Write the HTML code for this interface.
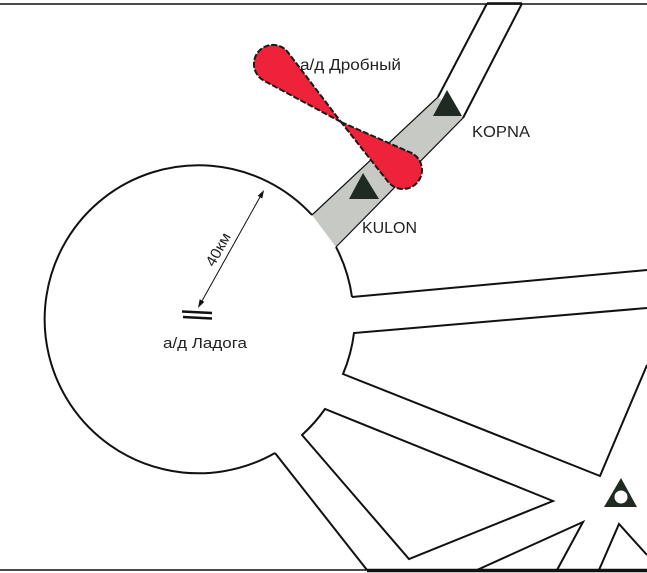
<!DOCTYPE html>
<html><head><meta charset="utf-8"><style>
html,body{margin:0;padding:0;background:#fff;}
svg{display:block;}
text{font-family:"Liberation Sans","Noto Sans CJK SC",sans-serif;fill:#222;}
</style></head><body>
<svg width="647" height="573" viewBox="0 0 647 573" xmlns="http://www.w3.org/2000/svg">
<rect width="647" height="573" fill="#fff"/>
<!-- top and bottom border lines -->
<line x1="0" y1="4" x2="647" y2="4" stroke="#111" stroke-width="1.5"/>
<line x1="487" y1="3.5" x2="522" y2="3.5" stroke="#111" stroke-width="2.5"/>
<line x1="0" y1="570" x2="367" y2="570" stroke="#111" stroke-width="1.5"/>
<line x1="367" y1="570.5" x2="647" y2="570.5" stroke="#111" stroke-width="3.5"/>

<!-- gray band -->
<polygon points="312,215 438,97 463,118 336,247" fill="#c7cac4"/>
<polyline points="312,215 438,97" fill="none" stroke="#111" stroke-width="1.2"/>
<polyline points="336,247 463,118" fill="none" stroke="#111" stroke-width="1.2"/>
<polyline points="438,97 487,3.5" fill="none" stroke="#111" stroke-width="2"/>
<polyline points="463,118 522,3.5" fill="none" stroke="#111" stroke-width="2"/>

<!-- circle arcs -->
<g fill="none" stroke="#111" stroke-width="2">
<path d="M275,453 A154,154 0 1 1 312,215"/>
<path d="M336,247 A154,154 0 0 1 352,297"/>
<path d="M352,297 L647,270"/>
<path d="M647,308 L354,333 A154,154 0 0 1 343,374 L600,476 L647,365"/>
<path d="M553,501 L325,409 A154,154 0 0 1 302,435 L409,559 Z"/>
<path d="M275,453 L367,570"/>
<path d="M477,570 L583,522 L557,570"/>
<path d="M599,570 L619,524 L647,555"/>
</g>

<!-- triangles -->
<polygon points="447,90 433,116 462,116" fill="#1e2a22"/>
<polygon points="363,173 349,199 379,199" fill="#1e2a22"/>
<polygon points="621,478 604,507 637,507" fill="#1e2a22"/>
<circle cx="621" cy="497" r="6.5" fill="#fff"/>

<!-- red propeller -->
<g fill="#ee2238" stroke="#1a1a1a" stroke-width="2" stroke-dasharray="6 2">
<path d="M341,122 L264,80.7 A19,19 0 1 1 288.1,52.5 Z"/>
<path d="M341,122 L410.6,152.6 A19,19 0 1 1 388.1,181.8 Z"/>
</g>

<!-- radius arrow -->
<line x1="200" y1="304.5" x2="262" y2="193.5" stroke="#111" stroke-width="1"/>
<polygon points="264,190 262.3,198.5 257.7,195.9" fill="#111"/>
<polygon points="198,308 204.3,301.9 199.7,299.3" fill="#111"/>
<text transform="translate(219,250) rotate(-60.8)" text-anchor="middle" font-size="15" dy="4" textLength="36" lengthAdjust="spacingAndGlyphs">40км</text>

<!-- airport symbol -->
<line x1="182" y1="311.5" x2="212" y2="313" stroke="#111" stroke-width="2.5"/>
<line x1="183" y1="317" x2="212" y2="318.5" stroke="#111" stroke-width="2.5"/>

<!-- labels -->
<text x="300" y="70" font-size="16" textLength="101" lengthAdjust="spacingAndGlyphs">а/д Дробный</text>
<text x="472" y="137" font-size="16" textLength="58" lengthAdjust="spacingAndGlyphs">KOPNA</text>
<text x="362" y="233" font-size="16" textLength="55" lengthAdjust="spacingAndGlyphs">KULON</text>
<text x="163" y="348" font-size="15" textLength="84" lengthAdjust="spacingAndGlyphs">а/д Ладога</text>
</svg>
</body></html>
